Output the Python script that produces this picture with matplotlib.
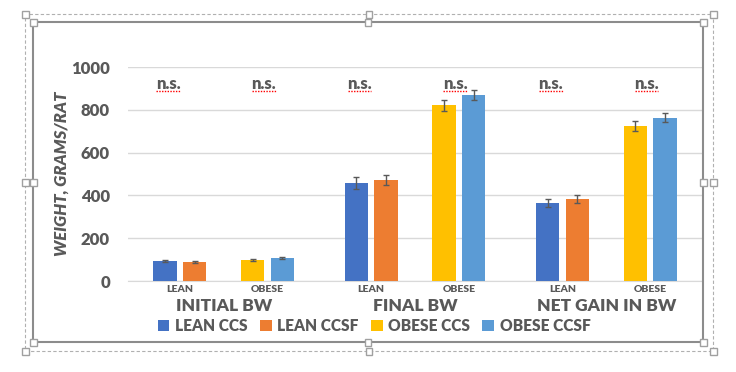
import numpy as np
import matplotlib.pyplot as plt
from matplotlib.patches import Rectangle

# data
groups = ["INITIAL BW", "FINAL BW", "NET GAIN IN BW"]
subcats = ["LEAN", "OBESE"]
series = ["LEAN CCS", "LEAN CCSF", "OBESE CCS", "OBESE CCSF"]
colors = ["#4472C4", "#ED7D31", "#FFC000", "#5B9BD5"]

lean_ccs = [95, 458, 364]
lean_ccsf = [89, 472, 383]
obese_ccs = [98, 822, 724]
obese_ccsf = [107, 869, 762]
lean_ccs_err = [4, 26, 19]
lean_ccsf_err = [4, 25, 20]
obese_ccs_err = [4, 26, 23]
obese_ccsf_err = [4, 22, 21]
sig_labels = ["n.s."] * 6
yticks = [0, 200, 400, 600, 800, 1000]

grey = "#595959"
wt = "heavy"
plt.rcParams['font.family'] = ['Lato', 'DejaVu Sans']

W, H = 736, 372
fig = plt.figure(figsize=(W / 100, H / 100), dpi=100)
ax = fig.add_axes([128 / W, 1 - 281 / H, (702 - 128) / W, (281 - 67) / H])

x = np.arange(len(groups))
sub_off = 0.229
pair_off = 0.078
bw = 0.122

vals = [lean_ccs, lean_ccsf, obese_ccs, obese_ccsf]
errs = [lean_ccs_err, lean_ccsf_err, obese_ccs_err, obese_ccsf_err]
offsets = [-sub_off - pair_off, -sub_off + pair_off, sub_off - pair_off, sub_off + pair_off]
for v, e, o, c, name in zip(vals, errs, offsets, colors, series):
    ax.bar(x + o, v, bw, color=c, label=name, zorder=3)
    ax.errorbar(x + o, v, yerr=e, fmt="none", ecolor=grey, elinewidth=1,
                capsize=2.5, capthick=1, zorder=4)

# n.s. labels
ns_x = np.sort(np.concatenate([x - 0.29, x + 0.21]))
for xi, lab in zip(ns_x, sig_labels):
    ax.text(xi, 922, lab, ha="center", va="center", fontsize=12,
            fontweight=wt, color=grey, zorder=5)
    ax.plot([xi - 0.062, xi + 0.062], [888, 888], color="red", lw=1,
            ls=(0, (1, 1)), zorder=5)

ax.set_xlim(-0.5, 2.5)
ax.set_ylim(0, 1000)
ax.set_yticks(yticks)
ax.set_yticklabels([str(t) for t in yticks], fontsize=12, fontweight=wt, color=grey)
ax.tick_params(axis="y", length=0, pad=13)
ax.grid(axis="y", color="#D9D9D9", lw=1, zorder=0)
for s in ["top", "right", "left"]:
    ax.spines[s].set_visible(False)
ax.spines["bottom"].set_color("#D9D9D9")

# two-level category axis
sub_x = np.sort(np.concatenate([x - sub_off, x + sub_off]))
ax.set_xticks(sub_x)
ax.set_xticklabels(subcats * len(groups), fontsize=7.5, fontweight=wt, color=grey)
ax.tick_params(axis="x", length=0, pad=3)
for xi, g in zip(x, groups):
    ax.text(xi, -0.115, g, transform=ax.get_xaxis_transform(), ha="center", va="center",
            fontsize=12.5, fontweight=wt, color=grey)

ax.set_ylabel("WEIGHT, GRAMS/RAT", fontsize=12, fontweight=wt, fontstyle="italic",
              color=grey, labelpad=1)

leg = fig.legend(loc="center", bbox_to_anchor=(374 / W, 1 - 326 / H), ncol=4, frameon=False,
                 handlelength=0.75, handleheight=0.75, handletextpad=0.35, columnspacing=0.8,
                 prop={"size": 11.2, "weight": wt})
for t in leg.get_texts():
    t.set_color(grey)


# selection frame around the chart object
def rect_px(x0, y0, x1, y1, **kw):
    fig.add_artist(Rectangle((x0 / W, 1 - y1 / H), (x1 - x0) / W, (y1 - y0) / H,
                             transform=fig.transFigure, fill=False, **kw))


def handle(px, py):
    fig.add_artist(Rectangle(((px - 3.5) / W, 1 - (py + 3.5) / H), 7 / W, 7 / H,
                             transform=fig.transFigure, facecolor="white",
                             edgecolor="#A0A0A0", lw=1, zorder=10))


rect_px(25, 14, 713, 351, edgecolor="#B0B0B0", lw=0.8, ls=(0, (3, 2)))
rect_px(33, 22, 703, 342, edgecolor="#8C8C8C", lw=1.5)
for (a, b, c, d) in [(25, 14, 713, 351), (33, 22, 703, 342)]:
    m, n = (a + c) / 2, (b + d) / 2
    for p in [(a, b), (m, b), (c, b), (a, n), (c, n), (a, d), (m, d), (c, d)]:
        handle(*p)

fig.savefig("out.png", dpi=100)
